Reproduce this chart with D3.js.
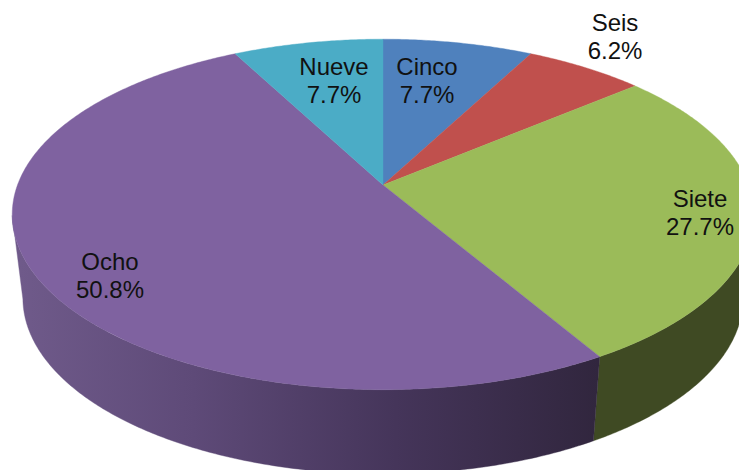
<!DOCTYPE html>
<html>
<head>
<meta charset="utf-8">
<script src="https://cdn.jsdelivr.net/npm/d3@7"></script>
<style>
html,body{margin:0;padding:0;background:#fff;overflow:hidden}
svg{display:block}
text{font-family:"Liberation Sans",Arial,sans-serif;font-size:24px;fill:#111}
</style>
</head>
<body>
<svg id="c" width="739" height="470"></svg>
<script>
const categories = ["Cinco","Seis","Siete","Ocho","Nueve"];
const counts = [5,4,18,33,5];
const colors = ["#4f81bd","#c0504d","#9bbb59","#7f62a0","#4bacc6"];
const labelAnchors = [[427,75],[615,31],[700,207],[110,270],[334,75]];

const W = 739, H = 470;
const svg = d3.select("#c");
const k = -0.168;                      // perspective of the tilted disc
const topFace = {cx:383, cy:185, rx:365.5, ry:170.3};
const baseFace = {cx:383, cy:268.5, rx:355, ry:171};
const project = (f, a, r=1) => {
  const u = Math.sin(a)*r, v = -Math.cos(a)*r, w = 1 + k*v;
  return [f.cx + f.rx*u/w, f.cy + f.ry*v/w];
};
const rad = d => d*Math.PI/180;
const sample = (a0, a1) => {
  const n = Math.max(2, Math.ceil(Math.abs(a1-a0)/rad(0.5)));
  return d3.range(n+1).map(i => a0 + (a1-a0)*i/n);
};
const line = d3.line();
const pie = d3.pie().sort(null).startAngle(0).endAngle(2*Math.PI);
const arcs = pie(counts);

const defs = svg.append("defs");
const grad = defs.append("linearGradient").attr("id","wall")
  .attr("gradientUnits","userSpaceOnUse").attr("x1",20).attr("x2",598).attr("y1",0).attr("y2",0);
[[0,"#6f5a8a"],[0.3,"#5e4a78"],[0.65,"#45355a"],[1,"#31263e"]].forEach(s =>
  grad.append("stop").attr("offset",s[0]).attr("stop-color",s[1]));

// side walls
const leftAngle = rad(260), rightAngle = rad(100);
const wall = (a0,a1,fill) => {
  const s = sample(a0,a1);
  const pts = s.map(a => project(topFace,a)).concat(s.slice().reverse().map(a => project(baseFace,a)));
  svg.append("path").attr("d",line(pts)+"Z").attr("fill",fill).attr("stroke",fill).attr("stroke-width",0.4);
};
wall(rightAngle, arcs[2].endAngle, "#3f4a23");
wall(arcs[3].startAngle, leftAngle, "url(#wall)");

// top slices
svg.append("g").selectAll("path").data(arcs).join("path")
  .attr("d", d => {
    const pts = [[topFace.cx,topFace.cy]].concat(sample(d.startAngle,d.endAngle).map(a => project(topFace,a)));
    return line(pts)+"Z";
  })
  .attr("fill",(d,i)=>colors[i])
  .attr("stroke",(d,i)=>colors[i])
  .attr("stroke-width",0.4);

// labels
const total = d3.sum(counts), pct = d3.format(".1%");
const lab = svg.append("g").selectAll("text").data(arcs).join("text")
  .attr("text-anchor","middle")
  .attr("x",(d,i)=>labelAnchors[i][0])
  .attr("y",(d,i)=>labelAnchors[i][1]);
lab.append("tspan").text((d,i)=>categories[i]);
lab.append("tspan").attr("x",(d,i)=>labelAnchors[i][0]).attr("dy",28).text(d=>pct(d.value/total));
</script>
</body>
</html>
